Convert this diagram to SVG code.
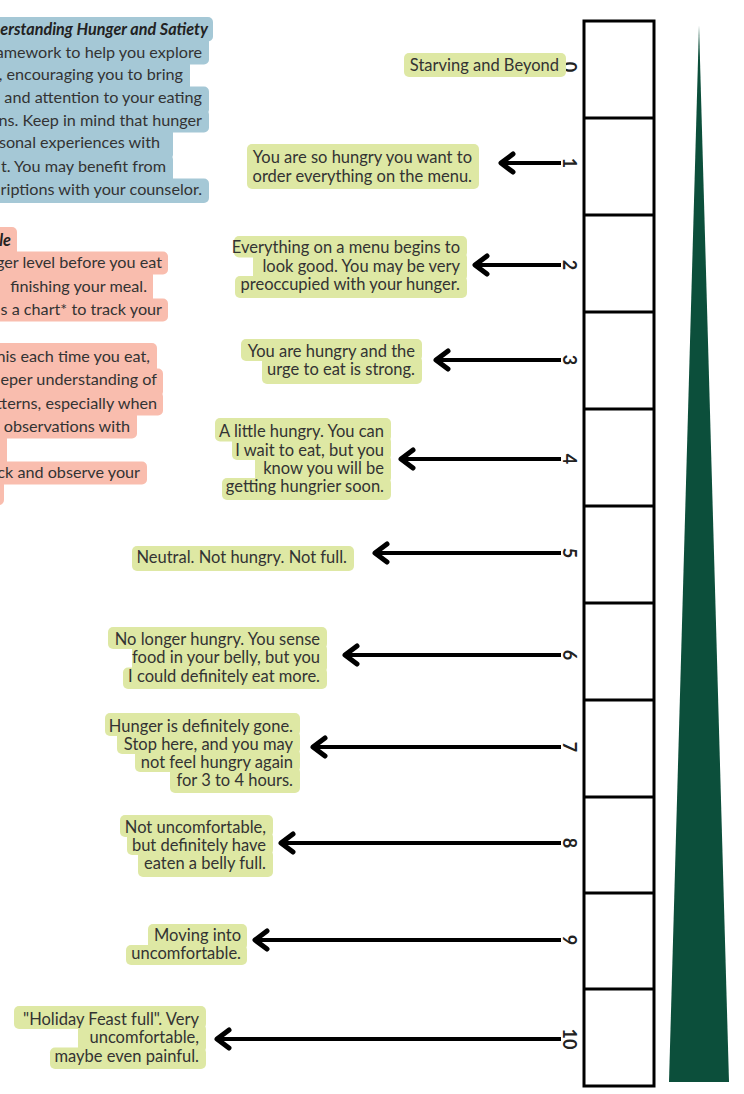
<svg xmlns="http://www.w3.org/2000/svg" width="744" height="1094" viewBox="0 0 744 1094">
<style>
.bg{fill:#ffffff}
.g{fill:#dee8a4}
.b{fill:#a5c8d6}
.p{fill:#f9bdae}
.t{font-family:Lato,"Open Sans","Liberation Sans",sans-serif;font-size:16.5px;fill:#333333;text-anchor:end}
.tl{font-family:Lato,"Open Sans","Liberation Sans",sans-serif;font-size:16.2px;fill:#333333;text-anchor:end}
.bi{font-weight:bold;font-style:italic;fill:#222222}
.num{font-family:Lato,"Liberation Sans",sans-serif;font-size:18px;font-weight:bold;fill:#222222;text-anchor:middle}
.cell{fill:#ffffff;stroke:#000000;stroke-width:3}
.conn{stroke:#000000;stroke-width:4;fill:none;marker-end:url(#chev)}
</style>
<defs>
<marker id="chev" markerUnits="userSpaceOnUse" viewBox="-18 -14 22 28" markerWidth="22" markerHeight="28" refX="0" refY="0" orient="auto">
<path d="M-12,-9 L0,0 L-12,9" fill="none" stroke="#000000" stroke-width="5" stroke-linecap="round" stroke-linejoin="round"/>
</marker>
</defs>
<rect class="bg" x="0" y="0" width="744" height="1094"/>

<g id="intro-box">
<rect class="b" x="-20" y="17" width="233" height="24.5" rx="5"/>
<rect class="b" x="-20" y="36.5" width="229" height="28" rx="5"/>
<rect class="b" x="-20" y="59.5" width="210" height="32" rx="5"/>
<rect class="b" x="-20" y="86.5" width="229" height="28" rx="5"/>
<rect class="b" x="-20" y="109.5" width="229" height="23" rx="5"/>
<rect class="b" x="-20" y="127.5" width="193" height="32" rx="5"/>
<rect class="b" x="-20" y="154.5" width="193" height="29" rx="5"/>
<rect class="b" x="-20" y="178.5" width="229" height="24.5" rx="5"/>
<text class="tl bi" x="208" y="35">erstanding Hunger and Satiety</text>
<text class="tl" x="202" y="58">amework to help you explore</text>
<text class="tl" x="183" y="80">, encouraging you to bring</text>
<text class="tl" x="202" y="103">and attention to your eating</text>
<text class="tl" x="202" y="126">ns. Keep in mind that hunger</text>
<text class="tl" x="160" y="148">sonal experiences with</text>
<text class="tl" x="166" y="172">t. You may benefit from</text>
<text class="tl" x="202" y="195">riptions with your counselor.</text>
</g>

<g id="how-to-box">
<rect class="p" x="-20" y="227" width="37" height="29.5" rx="5"/>
<rect class="p" x="-20" y="251.5" width="188" height="23" rx="5"/>
<rect class="p" x="-20" y="269.5" width="173" height="34" rx="5"/>
<rect class="p" x="-20" y="298.5" width="188" height="23" rx="5"/>
<rect class="p" x="-20" y="343" width="177" height="30.5" rx="5"/>
<rect class="p" x="-20" y="368.5" width="183" height="28" rx="5"/>
<rect class="p" x="-20" y="391.5" width="183" height="24" rx="5"/>
<rect class="p" x="-20" y="410.5" width="157" height="28" rx="5"/>
<rect class="p" x="-20" y="433.5" width="27" height="33" rx="5"/>
<rect class="p" x="-20" y="461.5" width="167" height="23" rx="5"/>
<rect class="p" x="-20" y="479.5" width="24" height="25.5" rx="5"/>
<text class="tl bi" x="11" y="246">le</text>
<text class="tl" x="162" y="268">ger level before you eat</text>
<text class="tl" x="147" y="292">finishing your meal.</text>
<text class="tl" x="162" y="315">s a chart* to track your</text>
<text class="tl" x="150" y="362">his each time you eat,</text>
<text class="tl" x="157" y="385">eper understanding of</text>
<text class="tl" x="157" y="409">tterns, especially when</text>
<text class="tl" x="130" y="432">observations with</text>
<text class="tl" x="140" y="478">ck and observe your</text>
</g>

<g id="ladder">
<rect class="cell" x="584" y="21" width="70" height="1065"/>
<path d="M584,118H654M584,215H654M584,312H654M584,409H654M584,506H654M584,603H654M584,700H654M584,797H654M584,893H654M584,989H654" stroke="#000000" stroke-width="3" fill="none"/>
</g>

<g id="gradient-wedge">
<polygon points="699,25 729,1082 669,1082" fill="#0c4f3b"/>
</g>

<g id="scale-numbers">
<text class="num" transform="translate(563,67) rotate(90)">0</text>
<text class="num" transform="translate(563,163) rotate(90)">1</text>
<text class="num" transform="translate(563,265) rotate(90)">2</text>
<text class="num" transform="translate(563,360) rotate(90)">3</text>
<text class="num" transform="translate(563,459) rotate(90)">4</text>
<text class="num" transform="translate(563,553) rotate(90)">5</text>
<text class="num" transform="translate(563,655) rotate(90)">6</text>
<text class="num" transform="translate(563,747) rotate(90)">7</text>
<text class="num" transform="translate(563,843) rotate(90)">8</text>
<text class="num" transform="translate(563,940) rotate(90)">9</text>
<text class="num" transform="translate(563,1039) rotate(90)">10</text>
</g>

<g id="connectors">
<line class="conn" x1="561" y1="163" x2="501" y2="163"/>
<line class="conn" x1="561" y1="265" x2="475" y2="265"/>
<line class="conn" x1="561" y1="360" x2="436" y2="360"/>
<line class="conn" x1="561" y1="459" x2="401" y2="459"/>
<line class="conn" x1="561" y1="553" x2="375" y2="553"/>
<line class="conn" x1="561" y1="655" x2="345" y2="655"/>
<line class="conn" x1="561" y1="747" x2="313" y2="747"/>
<line class="conn" x1="561" y1="843" x2="281" y2="843"/>
<line class="conn" x1="561" y1="940" x2="255" y2="940"/>
<line class="conn" x1="561" y1="1039" x2="217" y2="1039"/>
</g>

<g id="level-0">
<rect class="g" x="404" y="53" width="162" height="24" rx="5"/>
<text class="t" x="559" y="71">Starving and Beyond</text>
</g>

<g id="level-1">
<rect class="g" x="247" y="144" width="232" height="45" rx="5"/>
<text class="t" x="472" y="163">You are so hungry you want to</text>
<text class="t" x="472" y="182">order everything on the menu.</text>
</g>

<g id="level-2">
<rect class="g" x="234" y="236" width="233" height="21.5" rx="5"/>
<rect class="g" x="253" y="252.5" width="214" height="28.5" rx="5"/>
<rect class="g" x="235" y="276" width="232" height="22" rx="5"/>
<text class="t" x="460" y="253">Everything on a menu begins to</text>
<text class="t" x="460" y="272">look good. You may be very</text>
<text class="t" x="460" y="290">preoccupied with your hunger.</text>
</g>

<g id="level-3">
<rect class="g" x="241" y="339" width="181" height="22" rx="5"/>
<rect class="g" x="262" y="356" width="160" height="28" rx="5"/>
<text class="t" x="415" y="357">You are hungry and the</text>
<text class="t" x="415" y="375">urge to eat is strong.</text>
</g>

<g id="level-4">
<rect class="g" x="215" y="418" width="176" height="23.5" rx="5"/>
<rect class="g" x="232" y="436.5" width="159" height="23.5" rx="5"/>
<rect class="g" x="255" y="455" width="136" height="28" rx="5"/>
<rect class="g" x="222" y="478" width="169" height="22" rx="5"/>
<text class="t" x="384" y="437">A little hungry. You can</text>
<text class="t" x="384" y="456">I wait to eat, but you</text>
<text class="t" x="384" y="474">know you will be</text>
<text class="t" x="384" y="492">getting hungrier soon.</text>
</g>

<g id="level-5">
<rect class="g" x="132" y="546" width="222" height="25" rx="5"/>
<text class="t" x="347" y="563">Neutral. Not hungry. Not full.</text>
</g>

<g id="level-6">
<rect class="g" x="108" y="627" width="219" height="22" rx="5"/>
<rect class="g" x="132" y="644" width="195" height="28.5" rx="5"/>
<rect class="g" x="123" y="667.5" width="204" height="21.5" rx="5"/>
<text class="t" x="320" y="645">No longer hungry. You sense</text>
<text class="t" x="320" y="663">food in your belly, but you</text>
<text class="t" x="320" y="682">I could definitely eat more.</text>
</g>

<g id="level-7">
<rect class="g" x="105" y="713" width="195" height="23" rx="5"/>
<rect class="g" x="117" y="731" width="183" height="23" rx="5"/>
<rect class="g" x="135" y="749" width="165" height="23" rx="5"/>
<rect class="g" x="170" y="767" width="130" height="26" rx="5"/>
<text class="t" x="293" y="732">Hunger is definitely gone.</text>
<text class="t" x="293" y="750">Stop here, and you may</text>
<text class="t" x="293" y="768">not feel hungry again</text>
<text class="t" x="293" y="786">for 3 to 4 hours.</text>
</g>

<g id="level-8">
<rect class="g" x="120" y="815" width="153" height="22" rx="5"/>
<rect class="g" x="127" y="832" width="146" height="23" rx="5"/>
<rect class="g" x="138" y="850" width="135" height="27" rx="5"/>
<text class="t" x="266" y="833">Not uncomfortable,</text>
<text class="t" x="266" y="851">but definitely have</text>
<text class="t" x="266" y="869">eaten a belly full.</text>
</g>

<g id="level-9">
<rect class="g" x="148" y="924" width="99" height="26" rx="5"/>
<rect class="g" x="126" y="945" width="121" height="20" rx="5"/>
<text class="t" x="241" y="941">Moving into</text>
<text class="t" x="241" y="959">uncomfortable.</text>
</g>

<g id="level-10">
<rect class="g" x="14" y="1006" width="192" height="23" rx="5"/>
<rect class="g" x="78" y="1024" width="128" height="28.5" rx="5"/>
<rect class="g" x="50" y="1047.5" width="156" height="21.5" rx="5"/>
<text class="t" x="199" y="1025">"Holiday Feast full". Very</text>
<text class="t" x="199" y="1043">uncomfortable,</text>
<text class="t" x="199" y="1062">maybe even painful.</text>
</g>
</svg>
